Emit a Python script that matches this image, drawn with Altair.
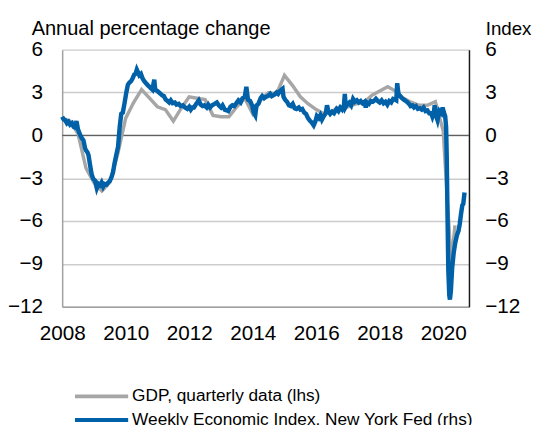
import altair as alt
import pandas as pd

# ---------------- data ----------------
gdp_year = [2008.00, 2008.25, 2008.50, 2008.75, 2009.00, 2009.25, 2009.50, 2009.75,
            2010.00, 2010.25, 2010.50, 2010.75, 2011.00, 2011.25, 2011.50, 2011.75,
            2012.00, 2012.25, 2012.50, 2012.75, 2013.00, 2013.25, 2013.50, 2013.75,
            2014.00, 2014.25, 2014.50, 2014.75, 2015.00, 2015.25, 2015.50, 2015.75,
            2016.00, 2016.25, 2016.50, 2016.75, 2017.00, 2017.25, 2017.50, 2017.75,
            2018.00, 2018.25, 2018.50, 2018.75, 2019.00, 2019.25, 2019.50, 2019.75,
            2020.00, 2020.25, 2020.37]
gdp_value = [1.2, 1.0, 0.1, -2.3, -3.3, -3.9, -3.3, -1.3,
             1.2, 2.3, 3.2, 2.6, 2.0, 1.8, 1.0, 1.9,
             2.7, 2.6, 2.5, 1.4, 1.3, 1.3, 2.0, 2.6,
             1.5, 2.5, 3.0, 2.9, 4.2, 3.5, 2.7, 2.2,
             1.8, 1.5, 1.7, 2.0, 2.0, 2.2, 2.3, 2.8,
             3.1, 3.4, 3.1, 2.6, 2.3, 2.1, 2.1, 2.35,
             0.3, -9.0, -6.3]

wei_year = [2008.00, 2008.05, 2008.10, 2008.15, 2008.20, 2008.25, 2008.31, 2008.36, 2008.41, 2008.45,
            2008.50, 2008.57, 2008.62, 2008.67, 2008.72, 2008.75, 2008.80, 2008.83, 2008.88, 2008.93,
            2008.98, 2009.03, 2009.09, 2009.14, 2009.19, 2009.24, 2009.29, 2009.34, 2009.40, 2009.45,
            2009.50, 2009.55, 2009.60, 2009.65, 2009.70, 2009.76, 2009.81, 2009.86, 2009.91, 2009.96,
            2010.02, 2010.07, 2010.12, 2010.17, 2010.22, 2010.27, 2010.31, 2010.35, 2010.39, 2010.43,
            2010.48, 2010.53, 2010.58, 2010.64, 2010.70, 2010.75, 2010.79, 2010.84, 2010.90, 2010.93,
            2011.00, 2011.05, 2011.10, 2011.15, 2011.20, 2011.26, 2011.32, 2011.37, 2011.42, 2011.48,
            2011.55, 2011.60, 2011.67, 2011.73, 2011.80, 2011.87, 2011.94, 2012.00, 2012.05, 2012.10,
            2012.15, 2012.22, 2012.30, 2012.36, 2012.42, 2012.48, 2012.55, 2012.60, 2012.66, 2012.72,
            2012.80, 2012.87, 2012.93, 2013.00, 2013.05, 2013.12, 2013.18, 2013.23, 2013.30, 2013.36,
            2013.42, 2013.50, 2013.55, 2013.62, 2013.68, 2013.75, 2013.80, 2013.85, 2013.92, 2013.98,
            2014.03, 2014.08, 2014.12, 2014.18, 2014.25, 2014.30, 2014.36, 2014.42, 2014.48, 2014.55,
            2014.60, 2014.68, 2014.75, 2014.80, 2014.86, 2014.94, 2014.97, 2015.02, 2015.08, 2015.14,
            2015.20, 2015.26, 2015.32, 2015.38, 2015.45, 2015.50, 2015.56, 2015.62, 2015.68, 2015.74,
            2015.81, 2015.86, 2015.92, 2015.97, 2016.02, 2016.08, 2016.13, 2016.18, 2016.24, 2016.30,
            2016.34, 2016.38, 2016.44, 2016.50, 2016.56, 2016.64, 2016.70, 2016.76, 2016.82, 2016.87,
            2016.90, 2016.93, 2016.98, 2017.04, 2017.10, 2017.16, 2017.22, 2017.28, 2017.34, 2017.40,
            2017.46, 2017.52, 2017.56, 2017.60, 2017.66, 2017.72, 2017.78, 2017.84, 2017.88, 2017.94,
            2018.00, 2018.06, 2018.12, 2018.18, 2018.24, 2018.30, 2018.36, 2018.42, 2018.48, 2018.52,
            2018.55, 2018.59, 2018.64, 2018.70, 2018.76, 2018.82, 2018.88, 2018.94, 2018.97, 2019.03,
            2019.08, 2019.14, 2019.20, 2019.26, 2019.32, 2019.38, 2019.44, 2019.50, 2019.56, 2019.62,
            2019.66, 2019.70, 2019.73, 2019.77, 2019.82, 2019.88, 2019.94, 2019.98, 2020.02, 2020.06,
            2020.09, 2020.11, 2020.13, 2020.16, 2020.19, 2020.21, 2020.24, 2020.28, 2020.33, 2020.38,
            2020.43, 2020.48, 2020.52, 2020.56, 2020.60, 2020.63, 2020.67]
wei_value = [1.30, 1.10, 1.05, 0.85, 0.95, 0.75, 0.85, 0.60, 0.55, 1.00,
             0.40, 0.00, -0.20, -0.35, -0.90, -1.05, -1.20, -1.40, -2.10, -2.75,
             -3.05, -3.15, -3.70, -3.40, -3.50, -3.30, -3.60, -3.40, -3.45, -3.30,
             -3.20, -2.95, -2.60, -1.95, -1.40, -0.80, 0.55, 1.50, 1.60, 2.20,
             3.00, 3.55, 3.70, 3.80, 4.00, 4.25, 4.30, 4.60, 4.40, 4.20,
             4.30, 4.00, 3.80, 3.65, 3.50, 3.40, 3.30, 3.20, 3.90, 3.20,
             3.10, 3.00, 2.90, 2.80, 2.75, 2.50, 2.40, 2.30, 2.45, 2.25,
             2.30, 2.15, 2.20, 2.05, 2.10, 1.95, 1.85, 2.00, 1.80, 1.95,
             1.95, 2.20, 2.45, 2.15, 2.05, 2.10, 1.95, 2.15, 1.95, 2.10,
             2.20, 2.30, 2.10, 1.95, 2.10, 1.80, 1.75, 1.70, 2.00, 2.10,
             2.05, 2.30, 2.45, 2.30, 2.60, 2.70, 3.40, 2.50, 2.40, 2.10,
             1.60, 1.40, 2.10, 2.20, 2.60, 2.75, 2.60, 2.70, 2.75, 2.90,
             2.75, 2.85, 3.00, 2.90, 3.10, 3.25, 2.70, 2.50, 2.35, 2.10,
             2.05, 2.20, 1.90, 1.85, 1.95, 1.80, 1.85, 1.60, 1.50, 1.20,
             1.00, 0.90, 0.70, 0.95, 1.35, 1.20, 1.40, 1.10, 1.35, 1.55,
             2.10, 1.70, 1.50, 1.65, 1.55, 1.85, 1.70, 1.95, 1.80, 2.00,
             2.90, 2.00, 2.20, 2.30, 2.10, 2.55, 2.35, 2.45, 2.30, 2.40,
             2.25, 2.35, 1.95, 2.30, 2.20, 2.40, 2.35, 2.45, 2.55, 2.40,
             2.30, 2.45, 2.25, 2.35, 2.15, 2.40, 2.30, 2.55, 2.50, 2.45,
             3.65, 2.90, 2.75, 2.60, 2.50, 2.40, 2.30, 2.15, 2.05, 2.10,
             1.95, 2.05, 1.85, 1.90, 1.80, 1.95, 1.70, 1.75, 1.55, 1.55,
             1.30, 1.55, 2.10, 1.40, 1.05, 1.70, 1.55, 1.95, 1.60, 1.35,
             0.60, -1.50, -5.00, -9.50, -11.20, -11.50, -10.90, -9.30, -8.20, -7.50,
             -7.00, -6.70, -6.20, -5.50, -4.90, -4.80, -4.00]

series_names = ["GDP, quarterly data (lhs)", "Weekly Economic Index, New York Fed (rhs)"]
series_colors = ["#a6a6a6", "#0061a8"]
y_ticks = [-12, -9, -6, -3, 0, 3, 6]
x_ticks = [2008, 2010, 2012, 2014, 2016, 2018, 2020]
left_title = "Annual percentage change"
right_title = "Index"

gdp = pd.DataFrame({"t": gdp_year, "v": gdp_value})
wei = pd.DataFrame({"t": wei_year, "v": wei_value})
zero = pd.DataFrame({"v": [0]})
one = pd.DataFrame({"k": [0]})

FONT = "Liberation Sans"
W, H = 413, 261

x_enc = alt.X(
    "t:Q",
    scale=alt.Scale(domain=[2008, 2020.81], nice=False, zero=False),
    axis=alt.Axis(values=x_ticks, format="d", grid=False, ticks=False, tickSize=0,
                  labelPadding=16, labelFlush=False, labelOverlap=False,
                  domain=True, domainColor="#a0a0a0", domainWidth=1.5, title=None),
)
yscale = alt.Scale(domain=[-12, 6], nice=False, zero=False)

zero_rule = alt.Chart(zero).mark_rule(color="#606060", strokeWidth=1.3).encode(
    y=alt.Y("v:Q", scale=yscale, axis=None)
)

gdp_line = alt.Chart(gdp).mark_line(color=series_colors[0], strokeWidth=3.5).encode(
    x=x_enc,
    y=alt.Y("v:Q", scale=yscale,
            axis=alt.Axis(orient="left", values=y_ticks, grid=True, gridColor="#cccccc",
                          gridWidth=1.5, domain=True, domainColor="#a0a0a0", domainWidth=1.5,
                          ticks=False, tickSize=0, labelPadding=20, title=None)),
)

wei_line = alt.Chart(wei).mark_line(color=series_colors[1], strokeWidth=4.5).encode(
    x=x_enc,
    y=alt.Y("v:Q", scale=yscale,
            axis=alt.Axis(orient="right", values=y_ticks, grid=False, domain=True,
                          domainColor="#1a1a1a", domainWidth=1.5, ticks=False, tickSize=0,
                          labelPadding=16, title=None)),
)

title_left = alt.Chart(one).mark_text(
    text=left_title, align="left", baseline="alphabetic", font=FONT, fontSize=20.3,
    color="black").encode(x=alt.value(-31), y=alt.value(-15))
title_right = alt.Chart(one).mark_text(
    text=right_title, align="left", baseline="alphabetic", font=FONT, fontSize=19,
    color="black").encode(x=alt.value(W + 17), y=alt.value(-15))

legend_layers = []
for i, (name, col) in enumerate(zip(series_names, series_colors)):
    ypos = 352 + 24 * i
    legend_layers.append(
        alt.Chart(one).mark_rule(color=col, strokeWidth=4).encode(
            x=alt.value(13), x2=alt.value(67), y=alt.value(ypos))
    )
    legend_layers.append(
        alt.Chart(one).mark_text(text=name, align="left", baseline="middle",
                                 font=FONT, fontSize=17.5, color="black").encode(
            x=alt.value(71), y=alt.value(ypos))
    )

chart = (
    alt.layer(zero_rule, gdp_line, wei_line, title_left, title_right, *legend_layers)
    .resolve_scale(y="independent")
    .properties(width=W, height=H,
                autosize=alt.AutoSizeParams(type="none"),
                padding={"left": 55, "top": 39, "right": 65, "bottom": 130},
                background="white")
    .configure(font=FONT)
    .configure_view(stroke=None)
    .configure_axis(labelFont=FONT, labelFontSize=21, labelColor="black")
)

chart.save("out.html", embed_options={"renderer": "svg", "actions": False})
